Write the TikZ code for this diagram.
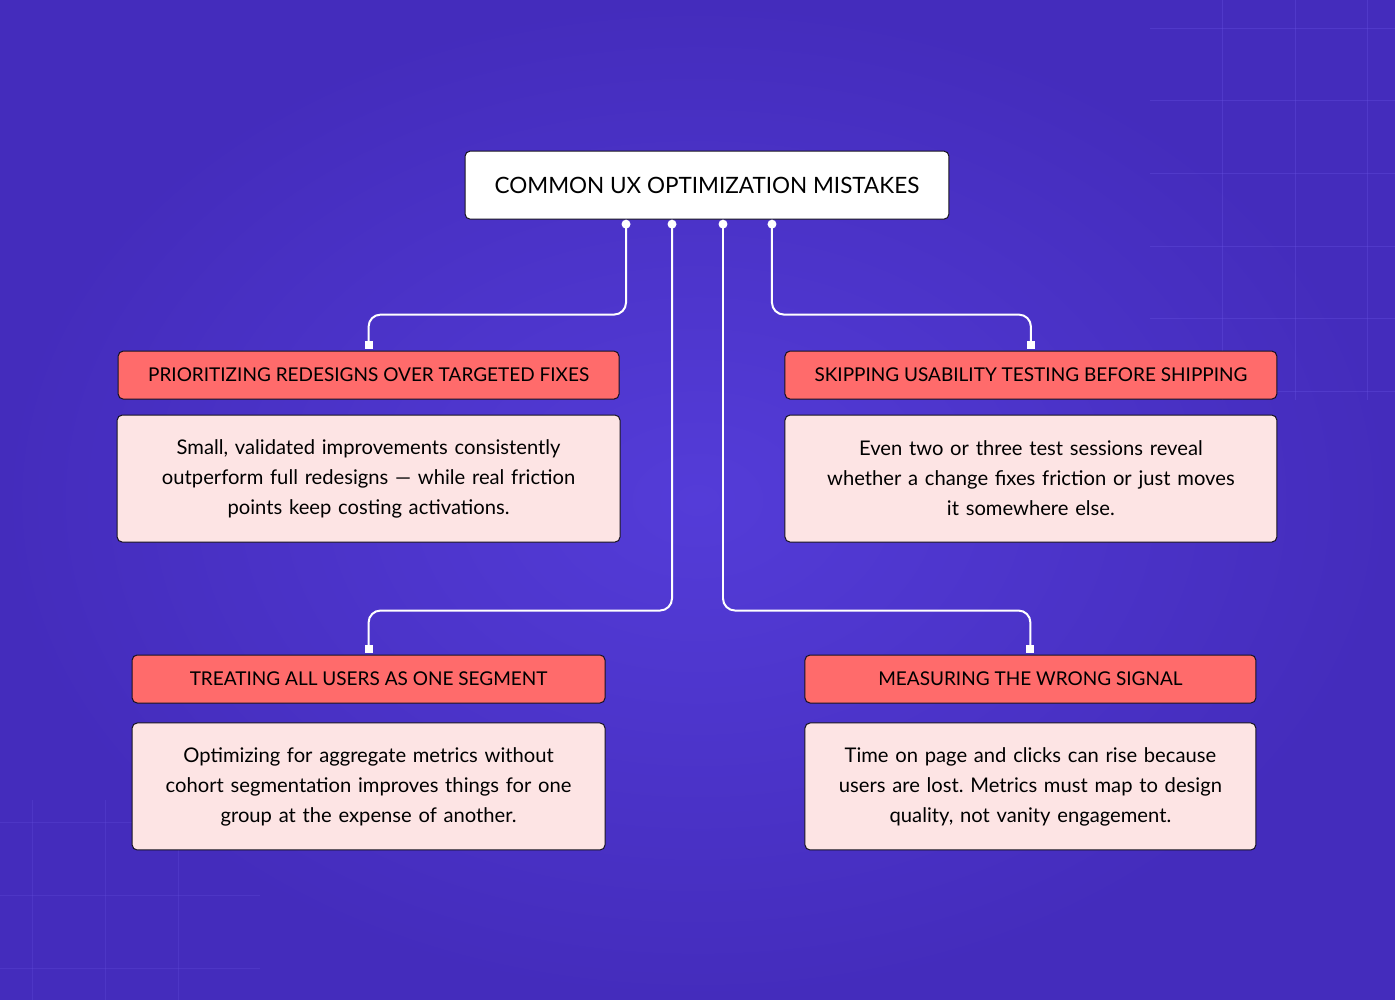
\documentclass[tikz,border=0pt]{standalone}
\usepackage{fontspec}
\setmainfont{Lato}
\usetikzlibrary{positioning}
\definecolor{bgmid}{RGB}{84,60,216}
\definecolor{bgedge}{RGB}{68,44,188}
\definecolor{gridline}{RGB}{104,84,226}
\definecolor{coral}{RGB}{255,107,107}
\definecolor{blush}{RGB}{253,228,228}
\definecolor{ink}{RGB}{22,18,32}
\frenchspacing

\begin{document}
\begin{tikzpicture}[x=1pt,y=-1pt,node distance=15pt,
  titlebox/.style={rectangle,rounded corners=5pt,draw=ink,line width=1pt,fill=white,minimum width=484pt,minimum height=68pt,font=\fontsize{22.5}{28}\selectfont},
  headbox/.style={rectangle,rounded corners=5pt,draw=ink,line width=1pt,fill=coral,minimum height=48pt,font=\fontsize{19}{24}\selectfont},
  bodybox/.style={rectangle,rounded corners=5pt,draw=ink,line width=1pt,fill=blush,minimum height=127pt,inner xsep=0pt,align=center,font=\fontsize{20.2}{30}\selectfont},
  link/.style={white,line width=2pt,rounded corners=12pt},
  dot/.style={circle,fill=white,inner sep=0pt,minimum size=9pt},
  tip/.style={rectangle,fill=white,inner sep=0pt,minimum size=8pt}]
  % background
  \shade[inner color=bgmid,outer color=bgedge] (0,0) rectangle (1395,1000);
  \foreach \x in {1222,1295,1367} \draw[gridline,opacity=.35] (\x,0) -- (\x,400);
  \foreach \y in {28,100,173,246,318,391} \draw[gridline,opacity=.35] (1150,\y) -- (1395,\y);
  \foreach \x in {32,105,178} \draw[gridline,opacity=.25] (\x,800) -- (\x,1000);
  \foreach \y in {822,895,968} \draw[gridline,opacity=.25] (0,\y) -- (260,\y);

  \node[titlebox](title) at (707,185) {COMMON UX OPTIMIZATION MISTAKES};

  \node[headbox,minimum width=501pt](tl) at (368.5,375) {PRIORITIZING REDESIGNS OVER TARGETED FIXES};
  \node[headbox,minimum width=492pt](tr) at (1031,375) {SKIPPING USABILITY TESTING BEFORE SHIPPING};
  \node[headbox,minimum width=473pt](bl) at (368.5,679) {TREATING ALL USERS AS ONE SEGMENT};
  \node[headbox,minimum width=451pt](br) at (1030.5,679) {MEASURING THE WRONG SIGNAL};

  \node[bodybox,text width=503pt,below=15pt of tl](tlbody) {Small, validated improvements consistently\\outperform full redesigns --- while real friction\\points keep costing activations.};
  \node[bodybox,text width=492pt,below=15pt of tr](trbody) {Even two or three test sessions reveal\\whether a change fixes friction or just moves\\it somewhere else.};
  \node[bodybox,text width=473pt,below=19pt of bl](blbody) {Optimizing for aggregate metrics without\\cohort segmentation improves things for one\\group at the expense of another.};
  \node[bodybox,text width=451pt,below=19pt of br](brbody) {Time on page and clicks can rise because\\users are lost. Metrics must map to design\\quality, not vanity engagement.};

  % connectors
  \coordinate (p1) at (626,224); \coordinate (p2) at (672,224);
  \coordinate (p3) at (723,224); \coordinate (p4) at (772,224);
  \draw[link](p1) |- ([yshift=36pt]tl.north) -- ([yshift=6pt]tl.north);
  \draw[link](p4) |- ([yshift=36pt]tr.north) -- ([yshift=6pt]tr.north);
  \draw[link](p2) |- ([yshift=44pt]bl.north) -- ([yshift=6pt]bl.north);
  \draw[link](p3) |- ([yshift=44pt]br.north) -- ([yshift=6pt]br.north);
  \foreach \p in {p1,p2,p3,p4} \node[dot] at (\p) {};
  \foreach \h in {tl,tr,bl,br} \node[tip] at ([yshift=6pt]\h.north) {};
\end{tikzpicture}
\end{document}
